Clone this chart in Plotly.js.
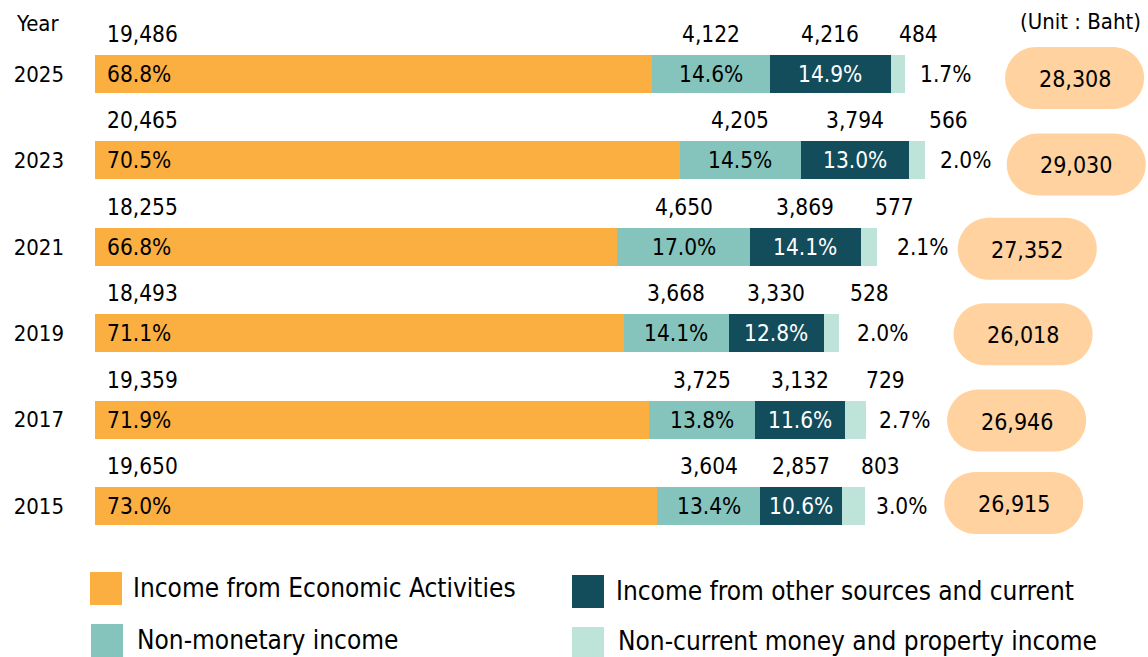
<!DOCTYPE html>
<html>
<head>
<meta charset="utf-8">
<script src="https://cdn.plot.ly/plotly-3.0.1.min.js"></script>
<style>
html,body{margin:0;padding:0;background:#fff;}
#chart{width:1148px;height:657px;}
</style>
</head>
<body>
<div id="chart"></div>
<script>
// ---- data ----
const years = ['2025', '2023', '2021', '2019', '2017', '2015'];
const economic = [19486, 20465, 18255, 18493, 19359, 19650];
const nonMonetary = [4122, 4205, 4650, 3668, 3725, 3604];
const otherSources = [4216, 3794, 3869, 3330, 3132, 2857];
const property = [484, 566, 577, 528, 729, 803];
const pctEconomic = ['68.8%', '70.5%', '66.8%', '71.1%', '71.9%', '73.0%'];
const pctNonMonetary = ['14.6%', '14.5%', '17.0%', '14.1%', '13.8%', '13.4%'];
const pctOther = ['14.9%', '13.0%', '14.1%', '12.8%', '11.6%', '10.6%'];
const pctProperty = ['1.7%', '2.0%', '2.1%', '2.0%', '2.7%', '3.0%'];
const totals = [28308, 29030, 27352, 26018, 26946, 26915];
const seriesNames = ['Income from Economic Activities', 'Non-monetary income',
  'Income from other sources and current', 'Non-current money and property income'];

// ---- style ----
const FONT = '"DejaVu Sans Condensed", "DejaVu Sans", "Liberation Sans", sans-serif';
const colors = ['#FBAF41', '#85C4BC', '#134D5C', '#BEE4DA'];
const pillColor = '#FFD29F';
const ML = 95, MR = 0, MT = 5, MB = 82, W = 1148, H = 657;
const PW = W - ML - MR, PH = H - MT - MB;
const XMAX = PW / 0.0286;
const px2paperX = p => (p - ML) / PW;
const px2paperY = p => 1 - (p - MT) / PH;
// label fine offsets (pixels)
const smallValShift = [-8, 2, -4, 9, -2, -6];
const smallPctShift = [13, 13, 18, 16, 11, 9];
const pillShift = [170, 151, 150, 184, 151, 149];
const pillDy = [4, 4, 2, 1, 1, -3];

const idx = years.map((_, i) => i);
const fmt = v => v.toLocaleString('en-US');

const series = [economic, nonMonetary, otherSources, property];
const traces = series.map((vals, s) => ({
  type: 'bar', orientation: 'h', name: seriesNames[s],
  x: vals, y: idx, width: 0.44,
  marker: {color: colors[s], line: {width: 0}},
  hoverinfo: 'skip', showlegend: false
}));

const FS = 22.5;
const ann = [];
const tf = (size, color) => ({family: FONT, size: size, color: color || '#000'});
idx.forEach(i => {
  const e = economic[i], n = nonMonetary[i], o = otherSources[i], p = property[i];
  const end = e + n + o + p;
  ann.push({x: 0, y: i, xanchor: 'left', xshift: 10, yshift: 40, text: fmt(e), showarrow: false, font: tf(FS)});
  ann.push({x: 0, y: i, xanchor: 'left', xshift: 10, text: pctEconomic[i], showarrow: false, font: tf(FS)});
  ann.push({x: e + n / 2, y: i, xanchor: 'center', yshift: 40, text: fmt(n), showarrow: false, font: tf(FS)});
  ann.push({x: e + n / 2, y: i, xanchor: 'center', text: pctNonMonetary[i], showarrow: false, font: tf(FS)});
  ann.push({x: e + n + o / 2, y: i, xanchor: 'center', yshift: 40, text: fmt(o), showarrow: false, font: tf(FS)});
  ann.push({x: e + n + o / 2, y: i, xanchor: 'center', text: pctOther[i], showarrow: false, font: tf(FS, '#ffffff')});
  ann.push({x: end, y: i, xanchor: 'left', xshift: smallValShift[i], yshift: 40, text: fmt(p), showarrow: false, font: tf(FS)});
  ann.push({x: end, y: i, xanchor: 'left', xshift: smallPctShift[i], text: pctProperty[i], showarrow: false, font: tf(FS)});
  ann.push({x: totals[i], y: i, xanchor: 'center', xshift: pillShift[i], yshift: -pillDy[i] - 1, text: fmt(totals[i]), showarrow: false, font: tf(23)});
});

ann.push({xref: 'paper', yref: 'paper', x: px2paperX(37), y: px2paperY(24), xanchor: 'center', yanchor: 'middle', text: 'Year', showarrow: false, font: tf(22)});
ann.push({xref: 'paper', yref: 'paper', x: px2paperX(1080), y: px2paperY(22), xanchor: 'center', yanchor: 'middle', text: '(Unit : Baht)', showarrow: false, font: tf(22)});

// pills (pixel-sized, anchored at each total)
function pillPath(dx, dy, hw, hh, r) {
  const k = 0.5523 * r;
  const X = v => (v + dx).toFixed(2), Y = v => (v + dy).toFixed(2);
  return `M ${X(-hw + r)} ${Y(-hh)} L ${X(hw - r)} ${Y(-hh)} ` +
    `C ${X(hw - r + k)} ${Y(-hh)} ${X(hw)} ${Y(-hh + r - k)} ${X(hw)} ${Y(-hh + r)} ` +
    `L ${X(hw)} ${Y(hh - r)} C ${X(hw)} ${Y(hh - r + k)} ${X(hw - r + k)} ${Y(hh)} ${X(hw - r)} ${Y(hh)} ` +
    `L ${X(-hw + r)} ${Y(hh)} C ${X(-hw + r - k)} ${Y(hh)} ${X(-hw)} ${Y(hh - r + k)} ${X(-hw)} ${Y(hh - r)} ` +
    `L ${X(-hw)} ${Y(-hh + r)} C ${X(-hw)} ${Y(-hh + r - k)} ${X(-hw + r - k)} ${Y(-hh)} ${X(-hw + r)} ${Y(-hh)} Z`;
}
const shapes = idx.map(i => ({
  type: 'path', xref: 'x', yref: 'y', xsizemode: 'pixel', ysizemode: 'pixel',
  xanchor: totals[i], yanchor: i,
  path: pillPath(pillShift[i], -pillDy[i], 69.5, 31, 31), fillcolor: pillColor, line: {width: 0}, layer: 'below'
}));

// custom legend
const legendItems = [
  {s: 0, sx: 90, sy: 572, tx: 131, ty: 588},
  {s: 1, sx: 91, sy: 624, tx: 135, ty: 640},
  {s: 2, sx: 572, sy: 575, tx: 614, ty: 591},
  {s: 3, sx: 572, sy: 627, tx: 616, ty: 641}
];
legendItems.forEach(it => {
  shapes.push({type: 'rect', xref: 'paper', yref: 'paper',
    x0: px2paperX(it.sx), x1: px2paperX(it.sx + 32),
    y0: px2paperY(it.sy), y1: px2paperY(it.sy + 33),
    fillcolor: colors[it.s], line: {width: 0}});
  ann.push({xref: 'paper', yref: 'paper', x: px2paperX(it.tx), y: px2paperY(it.ty),
    xanchor: 'left', yanchor: 'middle', text: seriesNames[it.s], showarrow: false, font: tf(26)});
});

const layout = {
  width: W, height: H,
  margin: {l: ML, r: MR, t: MT, b: MB, pad: 0},
  paper_bgcolor: '#ffffff', plot_bgcolor: '#ffffff',
  barmode: 'stack', bargap: 0,
  showlegend: false,
  xaxis: {range: [0, XMAX], visible: false, fixedrange: true},
  yaxis: {range: [5.8, -0.8], tickvals: idx, ticktext: years, showgrid: false, zeroline: false,
    showline: false, ticks: '', ticklabelstandoff: 30, tickfont: tf(22), fixedrange: true},
  annotations: ann, shapes: shapes
};

Plotly.newPlot('chart', traces, layout, {displayModeBar: false, staticPlot: true});
</script>
</body>
</html>
